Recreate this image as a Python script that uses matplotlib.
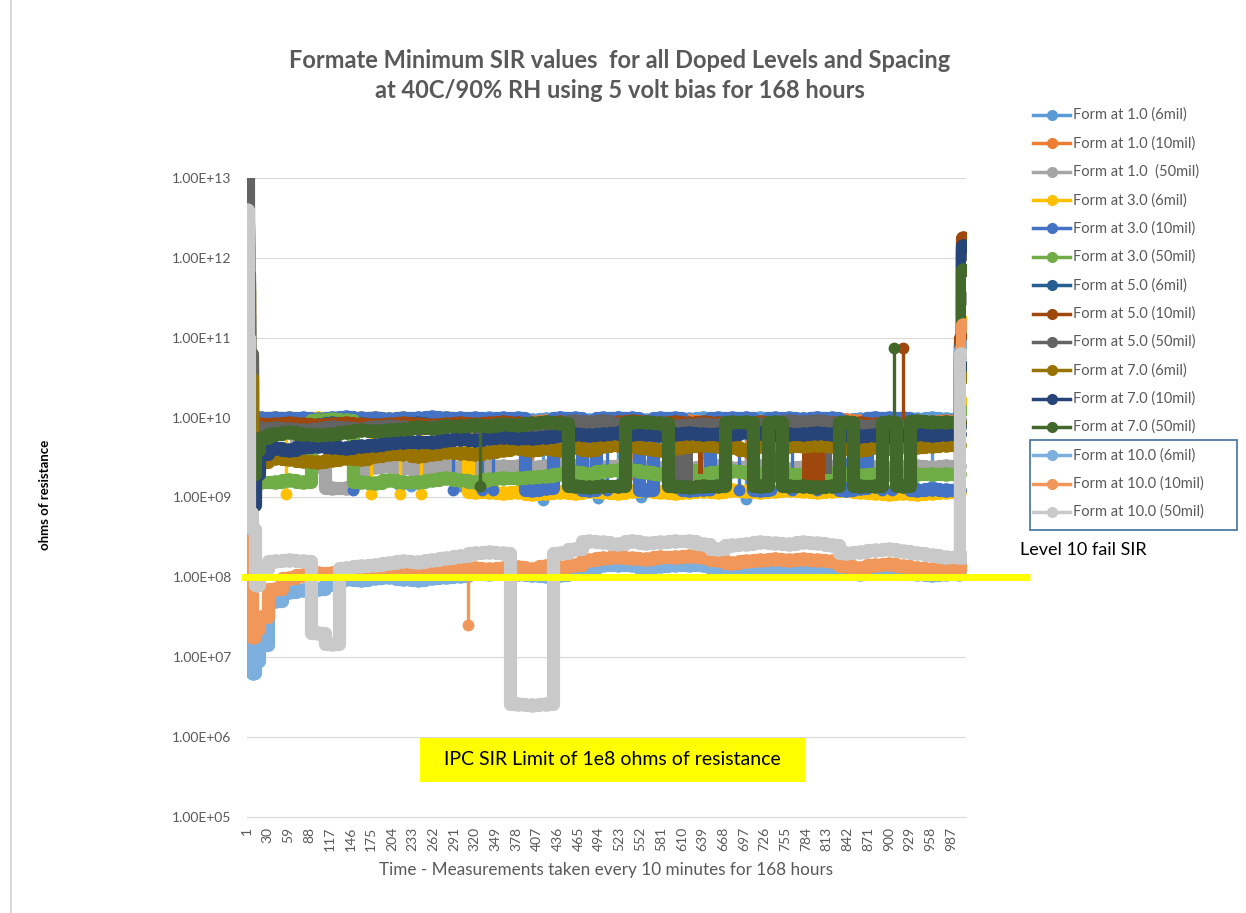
import numpy as np
import matplotlib
matplotlib.use('Agg')
import matplotlib.pyplot as plt
from matplotlib.lines import Line2D
from matplotlib.patches import Rectangle
from matplotlib.ticker import NullLocator

plt.rcParams['font.family'] = ['Lato', 'DejaVu Sans']

W, H = 1246, 913


def fx(px):
    return px / W


def fy(py):
    return 1 - py / H


# sample number of each reading (x axis)
samples = [1, 3, 6, 10, 15, 20] + list(range(40, 981, 20)) + [998, 1001, 1004]

# readings as log10(ohms)
form_1_6mil = [12.25, 11.3, 10.3, 9.55, 9.9, 9.98,
               10.0, 9.98, 9.97, 9.98, 9.99, 9.97,
               9.98, 9.99, 9.98, 9.96, 9.97, 9.98,
               9.99, 9.97, 9.98, 9.99, 9.98, 9.96,
               9.97, 9.98, 9.99, 9.98, 9.97, 9.98,
               9.99, 9.98, 9.97, 9.98, 9.97, 9.98,
               9.99, 9.98, 9.97, 9.98, 9.99, 9.98,
               9.97, 9.98, 9.99, 9.98, 9.97, 9.98,
               9.99, 9.98, 9.97, 9.98, 9.99, 9.98,
               9.98, 10.85, 12.1]
form_1_10mil = [12.35, 11.5, 10.6, 9.7, 9.85, 9.95,
                9.97, 9.96, 9.95, 9.96, 9.97, 9.96,
                9.95, 9.96, 9.97, 9.96, 9.95, 9.96,
                9.97, 9.96, 9.95, 9.96, 9.97, 9.96,
                9.95, 9.96, 9.97, 9.96, 9.95, 9.96,
                9.97, 9.96, 9.95, 9.96, 9.97, 9.96,
                9.95, 9.96, 9.97, 9.96, 9.95, 9.96,
                9.97, 9.96, 9.95, 9.96, 9.97, 9.96,
                9.95, 9.96, 9.97, 9.96, 9.95, 9.96,
                9.96, 10.9, 12.2]
form_1_50mil = [12.3, 11.4, 10.4, 9.5, 9.6, 9.7,
                9.8, 9.85, 9.7, 9.4, 9.12, 9.12,
                9.36, 9.38, 9.39, 9.37, 9.36, 9.38,
                9.39, 9.38, 9.37, 9.39, 9.4, 9.39,
                9.38, 9.39, 9.41, 9.4, 9.39, 9.38,
                9.39, 9.4, 9.38, 9.37, 9.36, 9.37,
                9.38, 9.39, 9.37, 9.38, 9.39, 9.37,
                9.36, 9.38, 9.39, 9.38, 9.37, 9.39,
                9.38, 9.37, 9.38, 9.39, 9.38, 9.39,
                9.39, 10.6, 11.5]
form_3_6mil = [12.2, 11.0, 10.0, 9.3, 9.9, 9.99,
               10.0, 9.99, 9.98, 9.99, 9.98, 9.97,
               9.99, 10.0, 9.98, 9.99, 9.98, 9.97,
               9.99, 9.98, 9.07, 9.07, 9.06, 9.07,
               9.05, 9.06, 9.07, 9.06, 9.08, 9.07,
               9.06, 9.08, 9.09, 9.07, 9.06, 9.07,
               9.08, 9.07, 9.09, 9.08, 9.07, 9.08,
               9.09, 9.08, 9.07, 9.08, 9.09, 9.07,
               9.06, 9.05, 9.06, 9.05, 9.06, 9.07,
               9.07, 10.2, 11.2]
form_3_10mil = [12.1, 11.2, 10.1, 9.4, 9.95, 10.0,
                9.99, 10.0, 9.99, 9.98, 10.0, 10.01,
                9.99, 10.0, 9.98, 9.99, 10.0, 10.01,
                10.0, 9.99, 10.0, 9.98, 9.99, 10.0,
                9.1, 9.12, 10.0, 9.99, 9.1, 10.0,
                9.99, 10.0, 9.1, 10.0, 9.99, 9.1,
                9.11, 10.0, 9.99, 10.0, 9.1, 9.99,
                10.0, 9.98, 10.0, 9.99, 9.1, 9.12,
                10.0, 9.99, 10.0, 9.1, 9.11, 9.1,
                9.1, 10.8, 12.15]
form_3_50mil = [12.3, 11.7, 10.5, 9.6, 9.25, 9.2,
                9.2, 9.22, 9.2, 9.97, 9.98, 9.97,
                9.2, 9.18, 9.22, 9.2, 9.19, 9.22,
                9.24, 9.22, 9.2, 9.23, 9.25, 9.24,
                9.26, 9.27, 9.3, 9.32, 9.3, 9.33,
                9.35, 9.34, 9.32, 9.3, 9.33, 9.34,
                9.3, 9.32, 9.33, 9.32, 9.3, 9.28,
                9.3, 9.29, 9.3, 9.31, 9.3, 9.28,
                9.3, 9.29, 9.28, 9.3, 9.29, 9.3,
                9.3, 10.1, 11.15]
form_5_6mil = [12.2, 11.1, 10.0, 9.3, 9.7, 9.85,
               9.9, 9.92, 9.9, 9.91, 9.93, 9.9,
               9.92, 9.91, 9.9, 9.92, 9.93, 9.91,
               9.9, 9.92, 9.91, 9.9, 9.92, 9.93,
               9.91, 9.9, 9.92, 9.91, 9.9, 9.92,
               9.93, 9.91, 9.9, 9.92, 9.91, 9.9,
               9.92, 9.93, 9.91, 9.9, 9.92, 9.91,
               9.9, 9.92, 9.91, 9.9, 9.88, 9.87,
               9.88, 9.86, 9.87, 9.88, 9.87, 9.88,
               9.88, 10.95, 12.1]
form_5_10mil = [12.4, 11.6, 10.7, 9.8, 9.88, 9.92,
                9.92, 9.93, 9.92, 9.91, 9.92, 9.93,
                9.92, 9.91, 9.92, 9.93, 9.92, 9.91,
                9.92, 9.93, 9.92, 9.93, 9.94, 9.93,
                9.92, 9.93, 9.94, 9.93, 9.92, 9.93,
                9.94, 9.96, 9.94, 9.93, 9.94, 9.93,
                9.94, 9.93, 9.92, 9.93, 9.94, 9.93,
                9.92, 9.93, 9.92, 9.93, 9.92, 9.93,
                9.92, 9.93, 9.92, 9.93, 9.92, 9.93,
                9.93, 11.0, 12.25]
form_5_50mil = [13.0, 11.8, 10.8, 9.9, 9.88, 9.85,
                9.87, 9.86, 9.85, 9.86, 9.88, 9.87,
                9.86, 9.88, 9.89, 9.88, 9.87, 9.88,
                9.89, 9.9, 9.9, 9.89, 9.9, 9.91,
                9.9, 9.91, 9.92, 9.96, 9.95, 9.96,
                9.92, 9.91, 9.92, 9.91, 9.9, 9.91,
                9.92, 9.91, 9.9, 9.91, 9.92, 9.93,
                9.96, 9.95, 9.96, 9.92, 9.91, 9.9,
                9.9, 9.91, 9.9, 9.91, 9.9, 9.91,
                9.91, 10.9, 12.05]
form_7_6mil = [12.35, 11.6, 10.5, 9.0, 9.35, 9.45,
               9.5, 9.48, 9.46, 9.45, 9.47, 9.5,
               9.48, 9.52, 9.55, 9.54, 9.52, 9.55,
               9.57, 9.56, 9.55, 9.57, 9.6, 9.62,
               9.6, 9.62, 9.6, 9.63, 9.6, 9.64,
               9.66, 9.65, 9.62, 9.6, 9.62, 9.64,
               9.66, 9.65, 9.63, 9.6, 9.64, 9.66,
               9.65, 9.64, 9.66, 9.65, 9.62, 9.6,
               9.63, 9.62, 9.64, 9.63, 9.65, 9.66,
               9.66, 10.5, 10.55]
form_7_10mil = [12.15, 11.3, 9.1, 8.9, 9.3, 9.55,
                9.62, 9.6, 9.63, 9.65, 9.63, 9.62,
                9.64, 9.66, 9.68, 9.7, 9.69, 9.7,
                9.72, 9.73, 9.72, 9.74, 9.76, 9.75,
                9.74, 9.76, 9.78, 9.79, 9.78, 9.8,
                9.81, 9.8, 9.79, 9.78, 9.8, 9.81,
                9.8, 9.79, 9.8, 9.82, 9.81, 9.8,
                9.79, 9.8, 9.81, 9.8, 9.78, 9.77,
                9.78, 9.77, 9.78, 9.79, 9.78, 9.79,
                9.79, 10.65, 12.15]
form_7_50mil = [12.45, 11.7, 9.6, 9.3, 9.6, 9.75,
                9.8, 9.82, 9.8, 9.78, 9.8, 9.82,
                9.84, 9.83, 9.85, 9.86, 9.88, 9.87,
                9.89, 9.9, 9.91, 9.9, 9.92, 9.91,
                9.93, 9.94, 9.93, 9.15, 9.13, 9.14,
                9.15, 9.94, 9.95, 9.93, 9.15, 9.13,
                9.14, 9.15, 9.94, 9.95, 9.14, 9.95,
                9.15, 9.14, 9.13, 9.15, 9.94, 9.14,
                9.15, 9.95, 9.14, 9.96, 9.95, 9.94,
                9.95, 10.8, 11.85]
form_10_6mil = [11.3, 8.6, 7.3, 6.8, 6.95, 7.15,
                7.7, 7.82, 7.84, 7.86, 7.92, 7.98,
                7.97, 7.99, 8.0, 7.98, 7.97, 7.99,
                8.01, 8.02, 8.05, 8.04, 8.05, 8.04,
                8.03, 8.02, 8.03, 8.05, 8.1, 8.15,
                8.16, 8.15, 8.12, 8.14, 8.15, 8.16,
                8.15, 8.12, 8.08, 8.1, 8.12, 8.13,
                8.12, 8.13, 8.12, 8.1, 8.06, 8.04,
                8.08, 8.09, 8.06, 8.04, 8.03, 8.04,
                8.04, 10.85, 10.9]
form_10_10mil = [12.4, 8.15, 7.86, 7.25, 7.35, 7.5,
                 7.86, 7.99, 8.03, 8.05, 8.06, 8.07,
                 8.05, 8.08, 8.1, 8.08, 8.07, 8.1,
                 8.12, 8.1, 8.12, 8.1, 8.12, 8.13,
                 8.11, 8.14, 8.13, 8.15, 8.22, 8.24,
                 8.25, 8.24, 8.23, 8.25, 8.26, 8.27,
                 8.25, 8.22, 8.18, 8.2, 8.22, 8.23,
                 8.22, 8.23, 8.22, 8.2, 8.14, 8.12,
                 8.16, 8.17, 8.14, 8.12, 8.11, 8.12,
                 8.12, 8.13, 11.16]
form_10_50mil = [12.6, 11.0, 8.8, 8.6, 7.9, 8.1,
                 8.2, 8.22, 8.2, 7.3, 7.16, 8.12,
                 8.14, 8.16, 8.18, 8.2, 8.19, 8.22,
                 8.24, 8.27, 8.3, 8.32, 8.3, 6.42,
                 6.4, 6.42, 8.3, 8.35, 8.45, 8.44,
                 8.42, 8.45, 8.43, 8.44, 8.46, 8.45,
                 8.42, 8.36, 8.4, 8.42, 8.44, 8.43,
                 8.42, 8.44, 8.43, 8.4, 8.3, 8.32,
                 8.34, 8.35, 8.33, 8.3, 8.28, 8.26,
                 8.25, 10.8, 8.25]

labels = ['Form at 1.0 (6mil)', 'Form at 1.0 (10mil)', 'Form at 1.0  (50mil)',
          'Form at 3.0 (6mil)', 'Form at 3.0 (10mil)', 'Form at 3.0 (50mil)',
          'Form at 5.0 (6mil)', 'Form at 5.0 (10mil)', 'Form at 5.0 (50mil)',
          'Form at 7.0 (6mil)', 'Form at 7.0 (10mil)', 'Form at 7.0 (50mil)',
          'Form at 10.0 (6mil)', 'Form at 10.0 (10mil)', 'Form at 10.0 (50mil)']
colors = ['#5B9BD5', '#ED7D31', '#A5A5A5', '#FFC000', '#4472C4', '#70AD47',
          '#255E91', '#9E480E', '#636363', '#997300', '#264478', '#43682B',
          '#7CAFDD', '#F1975A', '#C9C9C9']
series = [form_1_6mil, form_1_10mil, form_1_50mil, form_3_6mil, form_3_10mil,
          form_3_50mil, form_5_6mil, form_5_10mil, form_5_50mil, form_7_6mil,
          form_7_10mil, form_7_50mil, form_10_6mil, form_10_10mil, form_10_50mil]

# single-reading jumps: series, sample, log10(ohms) reached
jump_series = [11, 7, 13, 11, 0, 0, 0, 0, 3, 3, 3, 3,
               4, 4, 4, 4, 4, 4, 4, 4, 4, 4, 4, 4, 4, 4,
               0, 0, 0, 0, 0, 0, 0, 0, 0, 0, 0,
               1, 1, 1, 1, 1, 1, 1]
jump_at = [907, 920, 310, 327, 416, 492, 553, 700, 55, 175, 215, 245,
           150, 290, 330, 345, 470, 505, 610, 650, 690, 735, 765, 800, 890, 905,
           215, 230, 300, 450, 520, 600, 640, 790, 855, 935, 960,
           282, 390, 400, 438, 540, 650, 700]
jump_to = [10.87, 10.87, 7.41, 9.15, 8.97, 8.99, 9.0, 8.98, 9.05, 9.05, 9.05, 9.05,
           9.1, 9.1, 9.1, 9.1, 9.1, 9.1, 9.1, 9.1, 9.1, 9.1, 9.1, 9.1, 9.1, 9.1,
           9.15, 9.15, 9.15, 9.15, 9.15, 9.15, 9.15, 9.15, 9.15, 9.15, 9.15,
           9.3, 9.3, 9.3, 9.3, 9.3, 9.3, 9.3]

# stretches where a series flips between two levels every reading
flip_series = [7, 7, 7, 8, 8, 4]
flip_start = [632, 737, 778, 597, 810, 838]
flip_end = [639, 751, 810, 625, 820, 862]
flip_low = [9.3, 9.2, 9.2, 9.2, 9.3, 9.1]
flip_high = [9.9, 9.9, 9.9, 9.75, 9.9, 9.5]

fig = plt.figure(figsize=(W / 100, H / 100), dpi=100)
ax = fig.add_axes([fx(247), fy(817), fx(966) - fx(247), fy(178) - fy(817)])
ax.set_yscale('log')
ax.set_ylim(1e5, 1e13)
ax.set_xlim(1, 1008)

x = np.array(samples)
for i, vals in enumerate(series):
    z = 3 + i * 0.1
    c = colors[i]
    ax.plot(x, 10 ** np.array(vals), drawstyle='steps-mid', color=c, lw=9.5,
            marker='o', ms=9.5, mec=c, solid_joinstyle='round', zorder=z)
    for s, a, b, lo, hi in zip(flip_series, flip_start, flip_end, flip_low, flip_high):
        if s == i:
            ax.fill_between([a, b], 10 ** lo, 10 ** hi, color=c, lw=0, zorder=z)
    for s, at, to in zip(jump_series, jump_at, jump_to):
        if s == i:
            base = vals[int(np.argmin(np.abs(x - at)))]
            ax.plot([at, at], [10 ** base, 10 ** to], color=c, lw=2.4, zorder=z)
            ax.plot([at], [10 ** to], 'o', color=c, ms=7.5, zorder=z)

# IPC limit line (drawn past the plot area, as in the original sheet)
ax.plot([-7.4, 1097], [1e8, 1e8], color='#FFFF00', lw=5, clip_on=False,
        solid_capstyle='butt', zorder=10)

decades = list(range(5, 14))
ax.set_yticks([10.0 ** k for k in decades])
ax.set_yticklabels(['1.00E+%02d' % k for k in decades])
ax.yaxis.set_minor_locator(NullLocator())
ticks = np.arange(1, 1008, 29)
ax.set_xticks(ticks)
ax.set_xticklabels([str(t) for t in ticks], rotation=90)
ax.tick_params(axis='y', length=0, labelsize=10, labelcolor='#595959', pad=11)
ax.tick_params(axis='x', length=0, labelsize=10, labelcolor='#595959', pad=7)
ax.grid(axis='y', color='#D9D9D9', lw=0.8)
ax.set_axisbelow(True)
for sp in ['left', 'right', 'top']:
    ax.spines[sp].set_visible(False)
ax.spines['bottom'].set_color('#D9D9D9')

fig.text(fx(620), fy(60), 'Formate Minimum SIR values  for all Doped Levels and Spacing',
         ha='center', va='center', fontsize=17, weight='bold', color='#595959')
fig.text(fx(620), fy(90), 'at 40C/90% RH using 5 volt bias for 168 hours',
         ha='center', va='center', fontsize=17, weight='bold', color='#595959')
fig.text(fx(45), fy(495), 'ohms of resistance', rotation=90, ha='center', va='center',
         fontsize=9.5, weight='bold', color='black')
fig.text(fx(606), fy(870), 'Time - Measurements taken every 10 minutes for 168 hours',
         ha='center', va='center', fontsize=12.3, color='#595959')

# legend
for i, lab in enumerate(labels):
    y = 115 + i * 28.36
    fig.add_artist(Line2D([fx(1033), fx(1070)], [fy(y), fy(y)], color=colors[i], lw=2.5))
    fig.add_artist(Line2D([fx(1051.5)], [fy(y)], marker='o', ms=7, color=colors[i]))
    fig.text(fx(1073), fy(y), lab, ha='left', va='center', fontsize=10.5, color='#595959')
fig.add_artist(Rectangle((fx(1030), fy(530)), fx(1237) - fx(1030), fy(440) - fy(530),
                         transform=fig.transFigure, fill=False, ec='#41719C', lw=1.2))
fig.text(fx(1020), fy(550), 'Level 10 fail SIR', ha='left', va='center',
         fontsize=13, color='black')

fig.add_artist(Rectangle((fx(420), fy(782)), fx(805) - fx(420), fy(738) - fy(782),
                         transform=fig.transFigure, fc='#FFFF00', ec='none'))
fig.text(fx(612), fy(759), 'IPC SIR Limit of 1e8 ohms of resistance', ha='center',
         va='center', fontsize=14, color='black')

fig.add_artist(Line2D([fx(11), fx(11)], [0, 1], color='#D9D9D9', lw=1.5))

fig.savefig('out.png', dpi=100)
